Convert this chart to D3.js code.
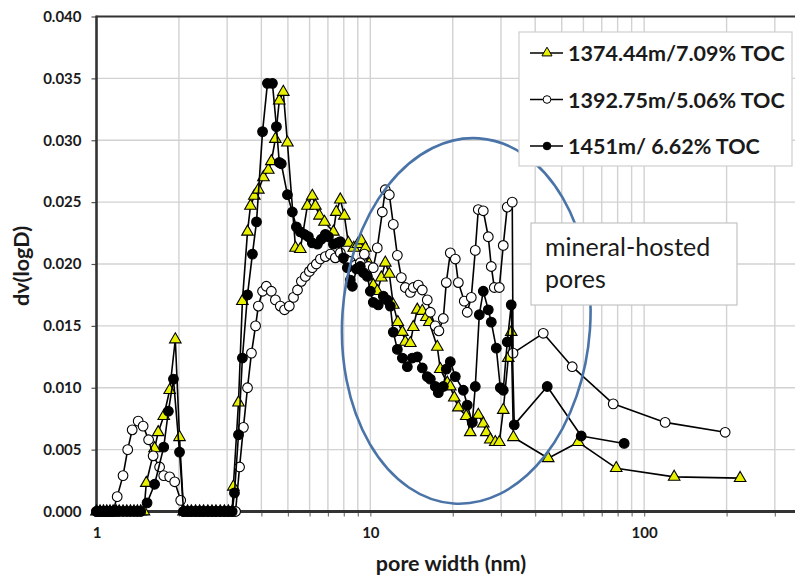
<!DOCTYPE html>
<html>
<head>
<meta charset="utf-8">
<script src="https://cdn.jsdelivr.net/npm/d3@7"></script>
<style>
  html, body { margin: 0; padding: 0; background: #fff; }
  svg { display: block; font-family: Lato, "Open Sans", "Liberation Sans", sans-serif; }
</style>
</head>
<body>
<svg id="chart" width="795" height="577"></svg>
<script>
// Pore size distributions, [pore width (nm), dV/dlogD]
const seriesNames = ["1374.44m/7.09% TOC", "1392.75m/5.06% TOC", "1451m/ 6.62% TOC"];

const sample1374 = [
  [1.00,0],[1.03,0],[1.06,0],[1.09,0],[1.12,0],[1.15,0],[1.18,0],[1.21,0],[1.25,0],[1.29,0],[1.33,0],[1.37,0],[1.41,0],[1.45,0],[1.49,0],
  [1.52,0.0023],[1.63,0.0051],[1.68,0.0064],[1.76,0.0077],[1.85,0.0098],[1.94,0.0139],[2.01,0.0060],
  [2.08,0],[2.15,0],[2.22,0],[2.30,0],[2.38,0],[2.46,0],[2.55,0],[2.64,0],[2.73,0],[2.83,0],[2.93,0],[3.03,0],[3.13,0],
  [3.16,0.0020],[3.30,0.0088],[3.41,0.0170],[3.56,0.0226],[3.65,0.0247],[3.77,0.0255],[3.90,0.0260],[4.07,0.0270],
  [4.24,0.0276],[4.35,0.0283],[4.50,0.0301],[4.65,0.0332],[4.81,0.0339],[4.98,0.0298],[5.33,0.0213],[5.55,0.0212],
  [5.89,0.0247],[6.14,0.0255],[6.30,0.0247],[6.52,0.0239],[6.80,0.0234],[7.33,0.0226],[7.51,0.0242],[7.77,0.0252],
  [8.04,0.0239],[8.31,0.0217],[8.70,0.0213],[9.00,0.0216],[9.27,0.0219],[9.59,0.0213],[9.90,0.0200],[10.25,0.0183],
  [10.60,0.0178],[10.97,0.0189],[11.34,0.0201],[11.73,0.0192],[12.13,0.0167],[12.60,0.0153],[13.09,0.0145],[13.42,0.0137],
  [14.00,0.0136],[14.35,0.0149],[14.84,0.0163],[15.48,0.0162],[16.01,0.0157],[16.42,0.0153],[17.56,0.0133],[18.01,0.0115],
  [19.10,0.0104],[19.59,0.0101],[20.26,0.0092],[20.96,0.0084],[22.40,0.0077],[23.17,0.0064],[24.79,0.0078],[25.85,0.0071],
  [26.51,0.0064],[27.42,0.0058],[28.60,0.0056],[29.58,0.0056],[30.58,0.0082],[31.89,0.0124],[32.70,0.0145],[33.30,0.0060],
  [44.63,0.0043],[57.43,0.0056],[79.06,0.0035],[128.7,0.0028],[224.1,0.0027]
];

const sample1392 = [
  [1.00,0],[1.03,0],[1.06,0],[1.09,0],[1.12,0],[1.15,0],
  [1.19,0.0012],[1.25,0.0029],[1.30,0.0050],[1.35,0.0066],[1.42,0.0073],[1.48,0.0069],[1.55,0.0058],[1.61,0.0045],
  [1.70,0.0036],[1.76,0.0029],[1.85,0.0028],[1.93,0.0024],[2.03,0.0009],
  [2.08,0],[2.15,0],[2.22,0],[2.30,0],[2.38,0],[2.46,0],[2.55,0],[2.64,0],[2.73,0],[2.83,0],[2.93,0],[3.03,0],[3.13,0],[3.22,0],
  [3.33,0.0036],[3.44,0.0068],[3.56,0.0100],[3.68,0.0128],[3.81,0.0150],[3.90,0.0166],[4.04,0.0178],[4.17,0.0182],
  [4.35,0.0178],[4.50,0.0171],[4.69,0.0166],[4.86,0.0163],[5.06,0.0166],[5.24,0.0173],[5.42,0.0179],[5.60,0.0186],
  [5.79,0.0190],[5.99,0.0194],[6.14,0.0197],[6.35,0.0200],[6.57,0.0204],[6.85,0.0206],[7.15,0.0208],[7.45,0.0205],
  [7.77,0.0209],[8.10,0.0204],[8.45,0.0202],[8.82,0.0199],[9.19,0.0201],[9.51,0.0208],[9.83,0.0198],[10.25,0.0197],
  [10.60,0.0213],[11.06,0.0242],[11.34,0.0260],[11.73,0.0256],[12.13,0.0232],[12.55,0.0207],[12.98,0.0189],[13.42,0.0181],
  [14.00,0.0177],[14.35,0.0181],[14.97,0.0183],[15.48,0.0179],[16.14,0.0171],[16.56,0.0161],[17.27,0.0150],[17.80,0.0146],
  [18.47,0.0156],[18.94,0.0185],[19.59,0.0209],[20.43,0.0204],[20.96,0.0185],[22.03,0.0170],[22.59,0.0161],[23.37,0.0173],
  [24.17,0.0211],[24.79,0.0244],[25.85,0.0243],[26.96,0.0222],[27.65,0.0198],[28.36,0.0181],[29.58,0.0181],[30.58,0.0215],
  [31.62,0.0246],[32.98,0.0250],[33.20,0.0128],[42.80,0.0144],[54.61,0.0117],[77.09,0.0087],[119.3,0.0072],[197.6,0.0064]
];

const sample1451 = [
  [1.00,0],[1.03,0],[1.06,0],[1.09,0],[1.12,0],[1.15,0],[1.18,0],[1.21,0],[1.25,0],[1.29,0],[1.33,0],[1.37,0],[1.41,0],[1.45,0],
  [1.53,0.0007],[1.63,0.0022],[1.76,0.0052],[1.83,0.0081],[1.91,0.0107],[2.01,0.0048],
  [2.08,0],[2.15,0],[2.22,0],[2.30,0],[2.38,0],[2.46,0],[2.55,0],[2.64,0],[2.73,0],[2.83,0],[2.93,0],[3.03,0],[3.13,0],
  [3.19,0.0015],[3.30,0.0062],[3.41,0.0124],[3.56,0.0175],[3.71,0.0208],[3.84,0.0234],[4.04,0.0307],[4.21,0.0346],
  [4.39,0.0346],[4.54,0.0311],[4.65,0.0282],[4.73,0.0281],[4.98,0.0256],[5.19,0.0242],[5.37,0.0230],[5.55,0.0226],
  [5.74,0.0224],[5.94,0.0222],[6.14,0.0217],[6.41,0.0216],[6.62,0.0220],[6.85,0.0224],[7.03,0.0222],[7.33,0.0216],
  [7.58,0.0217],[7.77,0.0218],[7.97,0.0205],[8.24,0.0197],[8.45,0.0187],[8.60,0.0182],[8.90,0.0196],[9.19,0.0198],
  [9.43,0.0193],[9.75,0.0190],[10.00,0.0178],[10.25,0.0169],[10.69,0.0167],[11.15,0.0174],[11.50,0.0171],[11.83,0.0166],
  [12.13,0.0145],[12.55,0.0131],[13.09,0.0124],[13.65,0.0117],[14.23,0.0124],[14.84,0.0125],[15.48,0.0116],[16.14,0.0109],
  [16.56,0.0107],[17.27,0.0101],[17.71,0.0096],[18.47,0.0101],[18.94,0.0115],[19.59,0.0121],[20.43,0.0109],[21.85,0.0098],
  [22.59,0.0086],[23.57,0.0072],[24.17,0.0101],[25.00,0.0159],[25.85,0.0178],[26.96,0.0163],[27.65,0.0153],[28.84,0.0132],
  [29.83,0.0100],[30.58,0.0098],[31.62,0.0137],[32.70,0.0167],[33.54,0.0070],[44.26,0.0101],[58.90,0.0061],[84.53,0.0055]
];

const xTickLabels = [1, 10, 100];
const yTickValues = [0, 0.005, 0.010, 0.015, 0.020, 0.025, 0.030, 0.035, 0.040];
const noteLines = ["mineral-hosted", "pores"];
const noteCenter = [22.4, 0.0154];   // centre of the outlined region (nm, dV/dlogD)

const svg = d3.select("#chart");
const W = 795, H = 577;
svg.append("rect").attr("width", W).attr("height", H).attr("fill", "#fff");

// Scales: log pore width axis runs 1-1000 nm, right part falls outside the view
const x = d3.scaleLog().domain([1, 1000]).range([96.5, 918]);
const y = d3.scaleLinear().domain([0, 0.04]).range([511.5, 16.5]);
const plotTop = y(0.04), plotBottom = y(0), plotLeft = x(1);

// minor log positions
const minorX = [];
for (let dec = 1; dec < 1000; dec *= 10) {
  for (let k = 1; k < 10; k++) minorX.push(dec * k);
}

// gridlines
const grid = svg.append("g");
grid.selectAll("line.v").data(minorX.filter(v => v > 1)).enter().append("line")
  .attr("x1", d => x(d)).attr("x2", d => x(d))
  .attr("y1", plotTop).attr("y2", plotBottom)
  .attr("stroke", "#d2d2d2").attr("stroke-width", 1.4);
grid.selectAll("line.h").data(yTickValues.filter(v => v > 0 && v < 0.04)).enter().append("line")
  .attr("x1", plotLeft).attr("x2", W)
  .attr("y1", d => y(d)).attr("y2", d => y(d))
  .attr("stroke", "#d2d2d2").attr("stroke-width", 1.4);

// axes
const yAxis = d3.axisLeft(y).tickValues(yTickValues).tickFormat(d3.format(".3f")).tickSize(5).tickPadding(10);
const gy = svg.append("g").attr("transform", `translate(${plotLeft},0)`).call(yAxis);
gy.select(".domain").remove();
gy.selectAll(".tick line").attr("stroke", "#555").attr("stroke-width", 1.2);
gy.selectAll(".tick text").attr("font-size", 15).attr("font-weight", 700)
  .attr("fill", "#1a1a1a").attr("font-family", "Lato, sans-serif");

const xAxis = d3.axisBottom(x).tickValues(minorX)
  .tickFormat(d => xTickLabels.includes(d) ? d3.format("d")(d) : "")
  .tickSize(5).tickPadding(11);
const gx = svg.append("g").attr("transform", `translate(0,${plotBottom})`).call(xAxis);
gx.select(".domain").remove();
gx.selectAll(".tick line").attr("stroke", "#777").attr("stroke-width", 1.2);
gx.selectAll(".tick text").attr("font-size", 15).attr("font-weight", 700)
  .attr("fill", "#1a1a1a").attr("font-family", "Lato, sans-serif");

// plot frame
const frame = svg.append("g").attr("stroke", "#333").attr("fill", "none");
frame.append("line").attr("x1", plotLeft).attr("x2", W).attr("y1", plotTop).attr("y2", plotTop).attr("stroke-width", 2.2);
frame.append("line").attr("x1", plotLeft).attr("x2", plotLeft).attr("y1", plotTop - 1).attr("y2", plotBottom + 1).attr("stroke-width", 2.6);
frame.append("line").attr("x1", plotLeft - 1).attr("x2", W).attr("y1", plotBottom).attr("y2", plotBottom).attr("stroke-width", 2.8);

// axis titles
svg.append("text").attr("x", 451).attr("y", 565).attr("text-anchor", "middle")
  .attr("dominant-baseline", "middle").attr("font-size", 21.5).attr("font-weight", 700)
  .attr("fill", "#1a1a1a").text("pore width (nm)");
svg.append("text").attr("transform", "translate(23,266) rotate(-90)").attr("text-anchor", "middle")
  .attr("dominant-baseline", "middle").attr("font-size", 21.5).attr("font-weight", 700)
  .attr("fill", "#1a1a1a").text("dv(logD)");

// series
const markerFill = ["#e8f000", "#ffffff", "#000000"];
const markerType = [d3.symbolTriangle, d3.symbolCircle, d3.symbolCircle];
const markerSize = [58, 74, 74];
const allSamples = [sample1374, sample1392, sample1451];
const line = d3.line().x(d => x(d[0])).y(d => y(d[1]));

allSamples.forEach((data, i) => {
  const g = svg.append("g");
  g.append("path").datum(data).attr("d", line)
    .attr("fill", "none").attr("stroke", "#000").attr("stroke-width", 1.6)
    .attr("stroke-linejoin", "round");
  g.selectAll("path.m").data(data).enter().append("path")
    .attr("d", d3.symbol(markerType[i], markerSize[i]))
    .attr("transform", d => `translate(${x(d[0])},${y(d[1])})`)
    .attr("fill", markerFill[i]).attr("stroke", "#000").attr("stroke-width", 1.1);
});

// outlined region
svg.append("ellipse")
  .attr("cx", 0).attr("cy", 0).attr("rx", 124).attr("ry", 183)
  .attr("transform", `translate(${x(noteCenter[0])},${y(noteCenter[1])}) rotate(4)`)
  .attr("fill", "none").attr("stroke", "#4a74a8").attr("stroke-width", 2.6);

// note box
const note = svg.append("g").attr("transform", "translate(531,223)");
note.append("rect").attr("width", 206).attr("height", 82)
  .attr("fill", "#fff").attr("stroke", "#c4c4c4").attr("stroke-width", 1.2);
note.selectAll("text").data(noteLines).enter().append("text")
  .attr("x", 14).attr("y", (d, i) => 33 + i * 32)
  .attr("font-size", 25).attr("font-weight", 400).attr("fill", "#1a1a1a")
  .text(d => d);

// legend
const legend = svg.append("g").attr("transform", "translate(519,32)");
legend.append("rect").attr("width", 273).attr("height", 134)
  .attr("fill", "#fff").attr("stroke", "#cfcfcf").attr("stroke-width", 1.2);
const rows = legend.selectAll("g.row").data(seriesNames).enter().append("g")
  .attr("transform", (d, i) => `translate(0,${21 + i * 46.5})`);
rows.append("line").attr("x1", 11).attr("x2", 44).attr("y1", 0).attr("y2", 0)
  .attr("stroke", "#000").attr("stroke-width", 1.5);
rows.append("path")
  .attr("d", (d, i) => d3.symbol(markerType[i], i === 0 ? 44 : 46)())
  .attr("transform", "translate(28,0)")
  .attr("fill", (d, i) => markerFill[i]).attr("stroke", "#000").attr("stroke-width", 1);
rows.append("text").attr("x", 49).attr("y", 0).attr("dominant-baseline", "central")
  .attr("font-size", 21.5).attr("font-weight", 700).attr("fill", "#1a1a1a")
  .text(d => d);
</script>
</body>
</html>
